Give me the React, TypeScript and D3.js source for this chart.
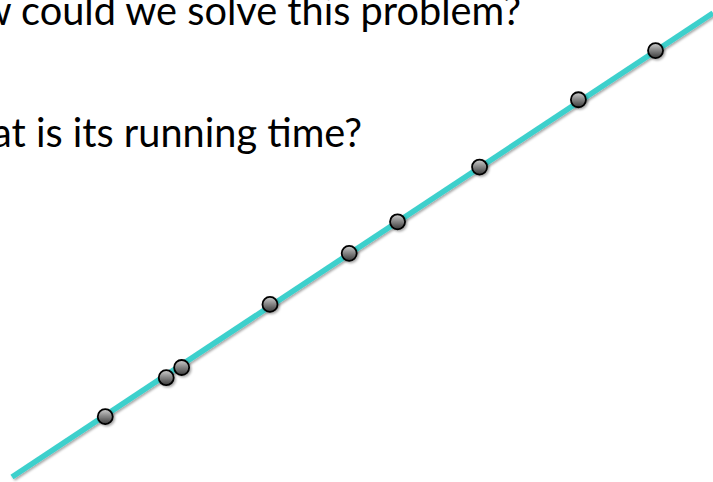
import React, { useEffect, useRef } from "react";
import * as d3 from "d3";

const WIDTH = 713;
const HEIGHT = 482;

// Input size (x) and running time (y) for the sampled runs
const sampleX = [13.3, 22.0, 24.2, 36.8, 48.1, 55.0, 66.7, 80.8, 91.8];
const sampleY = [13.0, 21.4, 23.6, 37.2, 48.2, 55.0, 66.8, 81.3, 91.9];

// Fitted trend line endpoints
const trendX = [0, 100];
const trendY = [0, 100];

const questions = ["How could we solve this problem?", "What is its running time?"];

export default function App() {
  const ref = useRef<SVGSVGElement | null>(null);

  useEffect(() => {
    const svg = d3.select(ref.current);
    svg.selectAll("*").remove();

    const defs = svg.append("defs");
    const shadow = defs
      .append("filter")
      .attr("id", "shadow")
      .attr("x", "-50%")
      .attr("y", "-50%")
      .attr("width", "200%")
      .attr("height", "200%");
    shadow
      .append("feDropShadow")
      .attr("dx", 1.5)
      .attr("dy", 1.5)
      .attr("stdDeviation", 1.2)
      .attr("flood-color", "#000")
      .attr("flood-opacity", 0.35);

    const grad = defs
      .append("linearGradient")
      .attr("id", "dotFill")
      .attr("x1", 0)
      .attr("y1", 0)
      .attr("x2", 0)
      .attr("y2", 1);
    grad.append("stop").attr("offset", "0%").attr("stop-color", "#cfcfcf");
    grad.append("stop").attr("offset", "45%").attr("stop-color", "#8a8a8a");
    grad.append("stop").attr("offset", "100%").attr("stop-color", "#3a3a3a");

    const x = d3.scaleLinear().domain([0, 100]).range([12, 713]);
    const y = d3.scaleLinear().domain([0, 100]).range([477, 13]);

    // Question text, right-aligned and running off the left edge
    const textX = [521, 362];
    const textY = [25, 146.5];
    svg
      .append("g")
      .selectAll("text")
      .data(questions)
      .join("text")
      .attr("x", (_, i) => textX[i])
      .attr("y", (_, i) => textY[i])
      .attr("text-anchor", "end")
      .attr("font-family", "Lato, 'Open Sans', sans-serif")
      .attr("font-size", 39.7)
      .attr("fill", "#000")
      .text((d) => d);

    const line = d3
      .line<number>()
      .x((_, i) => x(trendX[i]))
      .y((d) => y(d));

    svg
      .append("path")
      .datum(trendY)
      .attr("d", line)
      .attr("fill", "none")
      .attr("stroke", "#3dd0cc")
      .attr("stroke-width", 5.5)
      .attr("filter", "url(#shadow)");

    svg
      .append("g")
      .selectAll("circle")
      .data(sampleX.map((v, i) => [v, sampleY[i]]))
      .join("circle")
      .attr("cx", (d) => x(d[0]))
      .attr("cy", (d) => y(d[1]))
      .attr("r", 7.5)
      .attr("fill", "url(#dotFill)")
      .attr("stroke", "#000")
      .attr("stroke-width", 1.8)
      .attr("filter", "url(#shadow)");
  }, []);

  return (
    <svg
      ref={ref}
      width={WIDTH}
      height={HEIGHT}
      style={{ position: "absolute", left: 0, top: 0, display: "block", background: "#fff" }}
    />
  );
}
